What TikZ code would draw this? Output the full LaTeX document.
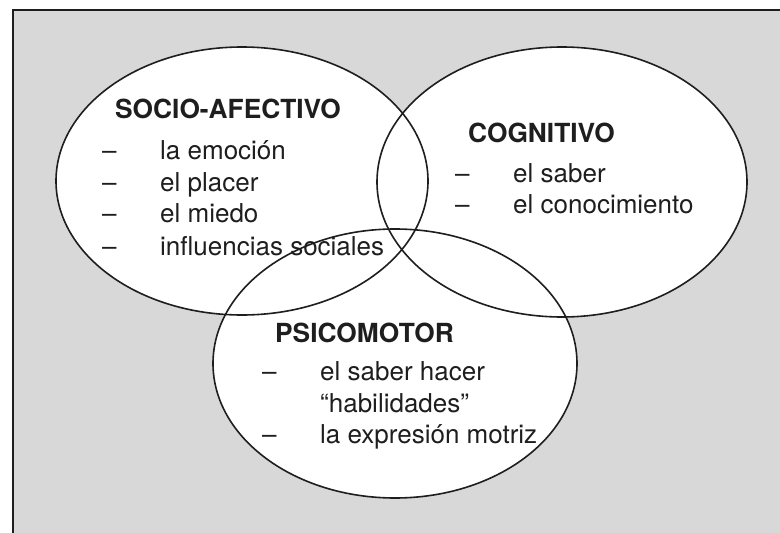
\documentclass[tikz,border=0pt]{standalone}
\usepackage{fontspec}
\setmainfont{TeX Gyre Heros}
\usetikzlibrary{shapes.geometric}
\definecolor{bggrey}{RGB}{216,216,216}
\definecolor{ink}{RGB}{30,30,30}
\tikzset{
  setfill/.style={ellipse, fill=white, inner sep=0pt, minimum width=#1},
  setline/.style={ellipse, draw=ink, line width=1.6pt, inner sep=0pt},
  ttl/.style={anchor=base west, inner sep=0pt, text=ink, font=\fontsize{26.3}{30}\selectfont\bfseries},
  itm/.style={anchor=base west, inner sep=0pt, text=ink, font=\fontsize{26}{30}\selectfont},
}
\begin{document}
\begin{tikzpicture}[x=1pt,y=-1pt]
\useasboundingbox (0,0) rectangle (780,533);
\fill[white] (0,0) rectangle (780,533);
\fill[bggrey] (13,10) rectangle (780,533);
\coordinate (fr1) at (780,10);
\coordinate (fr2) at (13,10);
\coordinate (fr3) at (13,533);
\draw[ink, line width=2pt] (fr1) -- (fr2) -- (fr3);
% fills
\node[setfill=372pt, minimum height=268pt] (socf) at (242,181) {};
\node[setfill=370pt, minimum height=270pt] (cogf) at (562,182) {};
\node[setfill=364pt, minimum height=269pt] (psif) at (395,363.5) {};
% outlines
\node[setline, minimum width=372pt, minimum height=268pt] (soc) at (242,181) {};
\node[setline, minimum width=370pt, minimum height=270pt] (cog) at (562,182) {};
\node[setline, minimum width=364pt, minimum height=269pt] (psi) at (395,363.5) {};
% SOCIO-AFECTIVO
\node[ttl] (st) at (115,118) {SOCIO-AFECTIVO};
\node[itm] (sd1) at (102,159) {–};
\node[itm] (s1) at (160,159) {la emoción};
\node[itm] (sd2) at (102,191) {–};
\node[itm] (s2) at (160,191) {el placer};
\node[itm] (sd3) at (102,222) {–};
\node[itm] (s3) at (160,222) {el miedo};
\node[itm] (sd4) at (102,255) {–};
\node[itm] (s4) at (160,255) {influencias sociales};
% COGNITIVO
\node[ttl] (ct) at (468,142) {COGNITIVO};
\node[itm] (cd1) at (455,182) {–};
\node[itm] (c1) at (513,182) {el saber};
\node[itm] (cd2) at (455,213) {–};
\node[itm] (c2) at (513,213) {el conocimiento};
% PSICOMOTOR
\node[ttl] (pt) at (275,342) {PSICOMOTOR};
\node[itm] (pd1) at (262,380) {–};
\node[itm] (p1) at (320,380) {el saber hacer};
\node[itm] (p2) at (320,412) {“habilidades”};
\node[itm] (pd3) at (262,443) {–};
\node[itm] (p3) at (320,443) {la expresión motriz};
\end{tikzpicture}
\end{document}
